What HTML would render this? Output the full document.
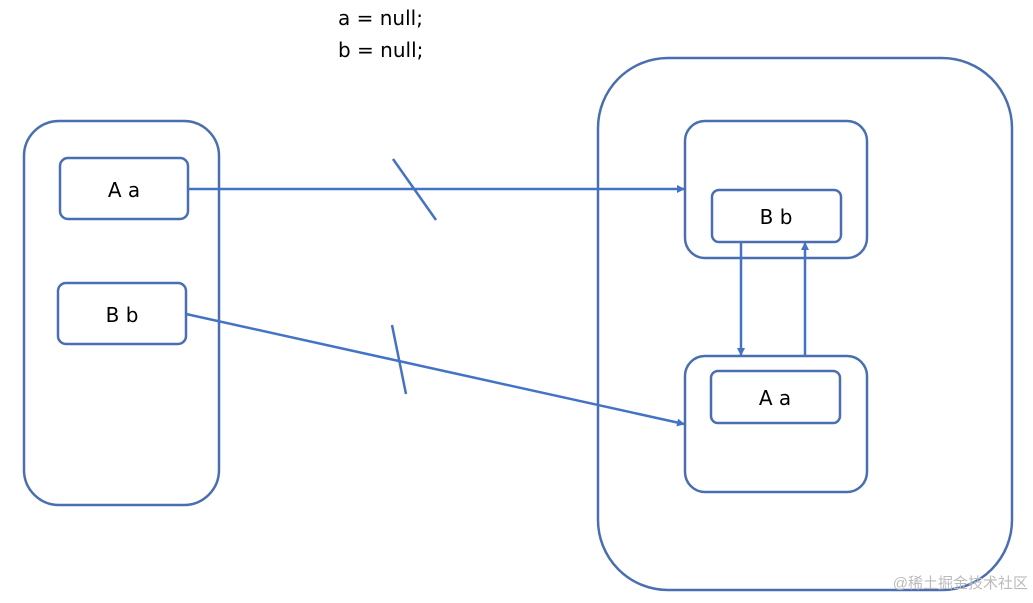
<!DOCTYPE html>
<html><head><meta charset="utf-8"><style>
html,body{margin:0;padding:0;background:#fff;}
</style></head><body>
<svg width="1033" height="598" viewBox="0 0 1033 598" xmlns="http://www.w3.org/2000/svg" font-family="DejaVu Sans, sans-serif">
<defs><marker id="ar" markerWidth="8" markerHeight="8" refX="7" refY="4" orient="auto" markerUnits="userSpaceOnUse"><path d="M0,0 L8,4 L0,8 z" fill="#4472c4"/></marker></defs>
<g fill="none" stroke="#4a6fb0" stroke-width="2.5">
<rect x="24" y="121" width="195" height="384" rx="35"/>
<rect x="60" y="158" width="128" height="61" rx="8"/>
<rect x="58" y="283" width="128" height="61" rx="8"/>
<rect x="598" y="58" width="414" height="532" rx="70"/>
<rect x="685" y="121" width="182" height="137" rx="20"/>
<rect x="712" y="190" width="129" height="52" rx="7"/>
<rect x="685" y="356" width="182" height="136" rx="20"/>
<rect x="711" y="371" width="129" height="52" rx="7"/>
</g>
<g stroke="#4472c4" stroke-width="2.5" fill="none">
<line x1="188" y1="189" x2="684" y2="189" marker-end="url(#ar)"/>
<line x1="186" y1="314" x2="684" y2="424" marker-end="url(#ar)"/>
<line x1="741" y1="242" x2="741" y2="355" marker-end="url(#ar)"/>
<line x1="805" y1="355" x2="805" y2="243" marker-end="url(#ar)"/>
<line x1="393" y1="159" x2="436" y2="220"/>
<line x1="392" y1="325" x2="406" y2="394"/>
</g>
<g font-size="20" fill="#000">
<text x="124" y="197" text-anchor="middle">A a</text>
<text x="122" y="322" text-anchor="middle">B b</text>
<text x="776" y="224" text-anchor="middle">B b</text>
<text x="775" y="405" text-anchor="middle">A a</text>
<text x="338" y="25">a = null;</text>
<text x="338" y="57">b = null;</text>
</g>
<text x="1028" y="588" text-anchor="end" font-size="15" fill="#bbb" font-family="Liberation Sans, Noto Sans CJK SC, sans-serif">@稀土掘金技术社区</text>
</svg>
</body></html>
